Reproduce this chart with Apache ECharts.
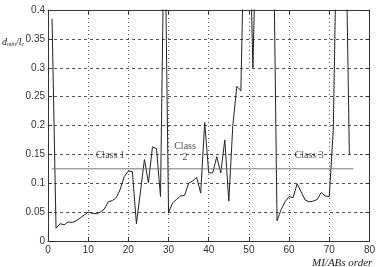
<!DOCTYPE html>
<html>
<head>
<meta charset="utf-8">
<script src="https://cdn.jsdelivr.net/npm/echarts@6/dist/echarts.min.js"></script>
<style>html,body{margin:0;padding:0;background:#fff}#c{width:378px;height:267px}</style>
</head>
<body>
<div id="c"></div>
<script>
// MI/ABs order
const orders = [1,2,3,4,5,6,7,8,9,10,11,12,13,14,15,16,17,18,19,20,21,22,23,24,25,26,27,28,29,30,31,32,33,34,35,36,37,38,39,40,41,42,43,44,45,46,47,48,49,50,51,52,53,54,55,56,57,58,59,60,61,62,63,64,65,66,67,68,69,70,71,72,73,74,75];
// d_min / l_c values (values above 0.4 are clipped by the axis)
const ratios = [0.385,0.022,0.030,0.028,0.033,0.032,0.035,0.040,0.045,0.050,0.048,0.047,0.050,0.055,0.068,0.070,0.075,0.090,0.112,0.121,0.120,0.030,0.085,0.141,0.101,0.163,0.160,0.077,0.600,0.049,0.066,0.072,0.078,0.079,0.100,0.104,0.110,0.083,0.205,0.118,0.118,0.146,0.118,0.175,0.069,0.200,0.268,0.260,0.600,0.600,0.300,0.600,0.600,0.600,0.600,0.600,0.035,0.054,0.068,0.077,0.075,0.099,0.085,0.071,0.068,0.069,0.072,0.084,0.078,0.077,0.192,0.600,0.600,0.600,0.149];
// class threshold line
const thresholdX = [1, 76];
const thresholdY = 0.125;
// annotations: [x, y, text]
const annotations = [[15.5, 0.149, 'Class 1'], [34.1, 0.155, 'Class\n2'], [65, 0.149, 'Class 3']];
const xTicks = {min: 0, max: 80, interval: 10};
const yTicks = {min: 0, max: 0.4, interval: 0.05};

const chart = echarts.init(document.getElementById('c'), null, {renderer: 'canvas'});
const lineData = orders.map((o, i) => [o, ratios[i]]);
const thrData = thresholdX.map(x => [x, thresholdY]);
const axisCol = '#333';
const tickFont = {fontFamily: 'Liberation Sans, Arial, sans-serif', fontSize: 10, color: '#333'};
function xAx(pos, show) {
  return {type: 'value', position: pos, min: xTicks.min, max: xTicks.max, interval: xTicks.interval,
    axisLine: {show: true, onZero: false, lineStyle: {color: axisCol, width: 1}},
    axisTick: {show: true, inside: true, length: 4, lineStyle: {color: axisCol}},
    axisLabel: Object.assign({show: show, margin: 4}, tickFont),
    splitLine: {show: show, lineStyle: {color: '#555', type: [1, 3], width: 1}}};
}
function yAx(pos, show) {
  return {type: 'value', position: pos, min: yTicks.min, max: yTicks.max, interval: yTicks.interval,
    axisLine: {show: true, onZero: false, lineStyle: {color: axisCol, width: 1}},
    axisTick: {show: true, inside: true, length: 4, lineStyle: {color: axisCol}},
    axisLabel: Object.assign({show: show, margin: 3}, tickFont),
    splitLine: {show: show, lineStyle: {color: '#555', type: [3, 3], width: 1}}};
}
chart.setOption({
  animation: false,
  backgroundColor: '#fff',
  grid: {left: 48, right: 8, top: 10, bottom: 26, containLabel: false},
  xAxis: [xAx('bottom', true), xAx('top', false)],
  yAxis: [yAx('left', true), yAx('right', false)],
  series: [
    {type: 'line', data: lineData, symbol: 'none', clip: true,
      lineStyle: {color: '#222', width: 1}},
    {type: 'line', data: thrData, symbol: 'none', clip: true,
      lineStyle: {color: '#777', width: 1}},
    {type: 'scatter', symbolSize: 0, silent: true,
      data: annotations.map(a => ({value: [a[0], a[1]], label: {show: true, formatter: a[2]}})),
      label: {show: true, position: 'inside', fontFamily: 'Liberation Serif, Times New Roman, serif', fontSize: 10, color: '#222', lineHeight: 11}}
  ],
  graphic: [
    {type: 'text', left: 2, top: 37, style: {
      text: '{i|d}{s|min}{i|/l}{s|c}',
      rich: {
        i: {fontFamily: 'Liberation Serif, serif', fontStyle: 'italic', fontSize: 10, fill: '#222'},
        s: {fontFamily: 'Liberation Serif, serif', fontStyle: 'italic', fontSize: 6, fill: '#222', padding: [5, 0, 0, 0]}
      }}},
    {type: 'text', left: 312, top: 258, style: {
      text: 'MI/ABs order', fontFamily: 'Liberation Serif, serif', fontStyle: 'italic', fontSize: 11, fill: '#222'}}
  ]
});
</script>
</body>
</html>
